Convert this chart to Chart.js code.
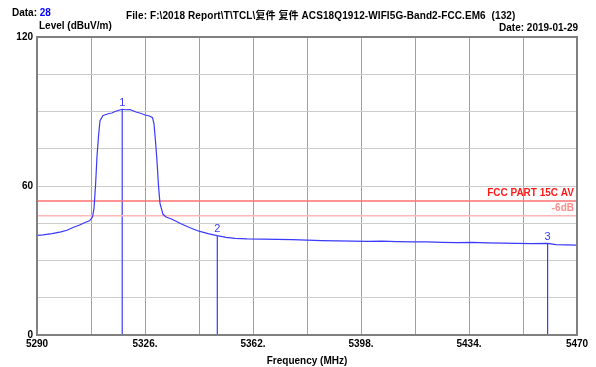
<!DOCTYPE html>
<html>
<head>
<meta charset="utf-8">
<script src="https://cdn.jsdelivr.net/npm/chart.js@4"></script>
<style>
  body { margin: 0; background: #fff; }
  #wrap { position: relative; width: 596px; height: 367px; }
  .txt { position: absolute; font: bold 10px "Liberation Sans", Arial, "Noto Sans CJK SC", sans-serif; color: #000; white-space: pre; }
</style>
</head>
<body>
<div id="wrap">
  <canvas id="spectrumChart" width="596" height="367"></canvas>
  <div class="txt" style="left:12px;top:7px;">Data: <span style="color:#0000ff">28</span></div>
  <div class="txt" style="left:126px;top:7px;letter-spacing:0.1px;">File: F:\2018 Report\T\TCL\复件 复件 ACS18Q1912-WIFI5G-Band2-FCC.EM6  (132)</div>
  <div class="txt" style="right:18px;top:22px;">Date: 2019-01-29</div>
  <div class="txt" style="left:39px;top:20px;">Level (dBuV/m)</div>
</div>
<script>
// Dữ liệu đường quét (MHz, dBuV/m)
var freqs = [5290, 5292, 5295, 5298, 5300, 5302, 5304, 5306, 5307.5, 5308.5, 5309, 5309.5, 5310, 5310.5, 5311,
  5312, 5313, 5314, 5315, 5316, 5317, 5318.4, 5319.5, 5321, 5322, 5323, 5324.5, 5326, 5327.5, 5328.5, 5329,
  5329.5, 5330, 5330.5, 5331, 5332, 5333, 5335, 5338, 5341, 5344, 5347, 5350, 5353, 5356, 5360, 5365, 5370,
  5375, 5380, 5385, 5390, 5395, 5400, 5405, 5410, 5415, 5420, 5425, 5430, 5435, 5440, 5445, 5450, 5455,
  5460.2, 5463, 5466, 5470];
var levels = [40.1, 40.3, 40.8, 41.5, 42.2, 43.3, 44.2, 45.3, 46.0, 47.5, 51, 60, 72, 80, 86.3,
  88.4, 88.8, 89.2, 89.4, 90.0, 90.4, 90.9, 90.7, 90.8, 90.3, 89.8, 89.3, 88.6, 88.2, 87.5, 85.0,
  78, 70, 60, 53, 48.6, 47.5, 46.6, 44.8, 43.2, 41.8, 40.8, 40.0, 39.3, 38.9, 38.7, 38.6, 38.5,
  38.4, 38.2, 38.0, 37.9, 37.8, 37.7, 37.8, 37.6, 37.5, 37.5, 37.3, 37.2, 37.3, 37.1, 37.0, 36.9, 36.8,
  36.9, 36.4, 36.3, 36.2];

// Điểm đánh dấu
var markerNames = ['1', '2', '3'];
var markerFreqs = [5318.4, 5350.1, 5460.2];
var markerLevels = [90.9, 40.0, 36.9];

// Đường giới hạn
var limitLevel = 54;
var marginLevel = 48;
var limitLabel = 'FCC PART 15C AV';
var marginLabel = '-6dB';

var xMin = 5290, xMax = 5470, xStep = 18;
var yMin = 0, yMax = 120, yStep = 15;
var yLabels = [0, 60, 120];

var BOLD = 'bold 10px "Liberation Sans", Arial, sans-serif';

var trace = freqs.map(function (f, i) { return { x: f, y: levels[i] }; });

var datasets = [{
  data: trace,
  borderColor: '#3a3aff',
  borderWidth: 1.2,
  pointRadius: 0,
  tension: 0
}, {
  data: [{ x: xMin, y: limitLevel }, { x: xMax, y: limitLevel }],
  borderColor: '#ff7070',
  borderWidth: 1.5,
  pointRadius: 0
}, {
  data: [{ x: xMin, y: marginLevel }, { x: xMax, y: marginLevel }],
  borderColor: '#ffb8b8',
  borderWidth: 1.5,
  pointRadius: 0
}];
markerFreqs.forEach(function (f, i) {
  datasets.push({
    data: [{ x: f, y: 0 }, { x: f, y: markerLevels[i] }],
    borderColor: '#3a3aff',
    borderWidth: 1.2,
    pointRadius: 0
  });
});

// Vẽ khung, nhãn giới hạn và nhãn điểm đánh dấu
var overlayPlugin = {
  id: 'overlay',
  afterDatasetsDraw: function (chart) {
    var ctx = chart.ctx, a = chart.chartArea;
    var xs = chart.scales.x, ys = chart.scales.y;
    ctx.save();
    ctx.strokeStyle = '#808080';
    ctx.lineWidth = 2;
    ctx.strokeRect(a.left, a.top, a.right - a.left, a.bottom - a.top);

    ctx.font = BOLD;
    ctx.textAlign = 'right';
    ctx.textBaseline = 'bottom';
    ctx.fillStyle = '#ff1a1a';
    ctx.fillText(limitLabel, a.right - 3, ys.getPixelForValue(limitLevel) - 3);
    ctx.fillStyle = '#ff8c8c';
    ctx.fillText(marginLabel, a.right - 3, ys.getPixelForValue(marginLevel) - 3);

    ctx.font = '11px "Liberation Sans", Arial, sans-serif';
    ctx.textAlign = 'center';
    ctx.fillStyle = '#3a3aff';
    markerNames.forEach(function (n, i) {
      ctx.fillText(n, xs.getPixelForValue(markerFreqs[i]), ys.getPixelForValue(markerLevels[i]) - 1);
    });
    ctx.restore();
  }
};

new Chart(document.getElementById('spectrumChart').getContext('2d'), {
  type: 'line',
  data: { datasets: datasets },
  options: {
    responsive: false,
    animation: false,
    layout: { padding: { top: 37, right: 19, left: 0, bottom: 0 } },
    plugins: { legend: { display: false }, tooltip: { enabled: false } },
    scales: {
      x: {
        type: 'linear',
        min: xMin, max: xMax,
        afterFit: function (s) { s.height = 32; },
        afterBuildTicks: function (s) {
          var t = [];
          for (var v = xMin; v <= xMax; v += xStep) t.push({ value: v });
          s.ticks = t;
        },
        ticks: {
          autoSkip: false, maxRotation: 0, padding: 3,
          color: '#000', font: { family: '"Liberation Sans", Arial, sans-serif', size: 10, weight: 'bold' },
          callback: function (v) {
            if ((v - xMin) % 36 !== 0) return '';
            return (v === xMin || v === xMax) ? String(v) : v + '.';
          }
        },
        grid: { color: '#a0a0a0', drawTicks: false },
        border: { color: '#808080', width: 2 },
        title: {
          display: true, text: 'Frequency (MHz)', color: '#000', padding: { top: 1, bottom: 0 },
          font: { family: '"Liberation Sans", Arial, sans-serif', size: 10, weight: 'bold' }
        }
      },
      y: {
        min: yMin, max: yMax,
        afterFit: function (s) { s.width = 37; },
        ticks: {
          stepSize: yStep, padding: 4, color: '#000',
          font: { family: '"Liberation Sans", Arial, sans-serif', size: 10, weight: 'bold' },
          callback: function (v) { return yLabels.indexOf(v) >= 0 ? String(v) : ''; }
        },
        grid: { color: '#cccccc', drawTicks: false },
        border: { color: '#808080', width: 2 }
      }
    }
  },
  plugins: [overlayPlugin]
});
</script>
</body>
</html>
